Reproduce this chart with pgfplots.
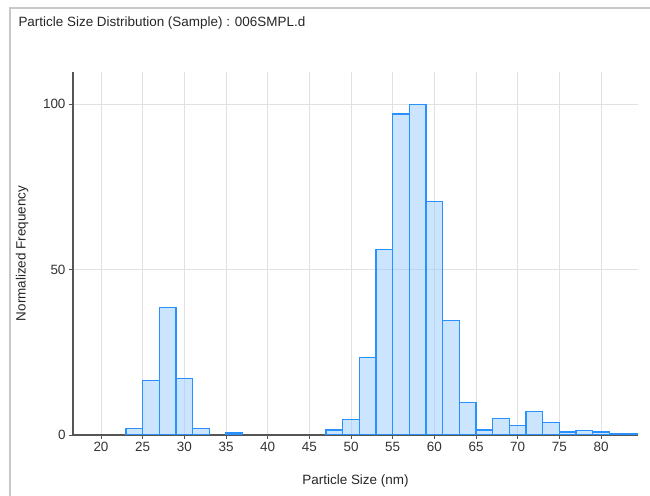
\documentclass[border=0pt]{standalone}
\usepackage{fontspec}
\setmainfont{Liberation Sans}
\usepackage{pgfplots}
\pgfplotsset{compat=1.18}

\definecolor{barfill}{RGB}{153,204,255}
\definecolor{baredge}{RGB}{40,145,255}
\definecolor{axgray}{RGB}{85,85,85}
\definecolor{gridgray}{RGB}{225,225,225}
\definecolor{framegray}{RGB}{200,200,200}

\begin{document}
\begin{tikzpicture}[x=1bp,y=1bp]
\useasboundingbox (0,0) rectangle (650,496);
% panel frame
\draw[framegray, line width=1.5bp] (10,0) -- (10,488) -- (650,488);
\node[anchor=west, font=\fontsize{13.5}{15}\selectfont, text=black!85] at (15,473) {Particle Size Distribution (Sample) : 006SMPL.d};

\begin{axis}[
    at={(73bp,61bp)}, anchor=origin,
    scale only axis,
    width=565bp, height=363bp,
    xmin=16.64, xmax=84.44,
    ymin=0, ymax=109.7,
    axis lines*=left,
    axis line style={axgray, line width=1.2bp},
    xtick={20,25,...,80},
    ytick={0,50,100},
    tick align=outside,
    major tick length=4bp,
    tick style={axgray, line width=0.8bp},
    grid=major,
    grid style={gridgray, line width=0.8bp},
    ticklabel style={font=\fontsize{13.5}{15}\selectfont, text=black!80},
    /pgf/number format/assume math mode=true,
    xlabel={Particle Size (nm)},
    ylabel={Normalized Frequency},
    label style={font=\fontsize{13.5}{15}\selectfont, text=black!85},
    xlabel style={at={(axis description cs:0.5,0)}, anchor=north, yshift=-36bp},
    ylabel style={at={(axis description cs:0,0.5)}, anchor=south, yshift=41bp},
    clip=true,
]
\addplot[ybar, bar width=2, bar shift=0, fill=barfill, fill opacity=0.5,
         draw=baredge, line width=1.1bp] coordinates {
    (24,2.0) (26,16.5) (28,38.5) (30,17.0) (32,2.0)
    (36,0.6)
    (48,1.5) (50,4.7) (52,23.3) (54,56.0) (56,97.0) (58,100.0)
    (60,70.6) (62,34.5) (64,9.7) (66,1.5) (68,5.0) (70,3.0)
    (72,7.0) (74,3.9) (76,0.9) (78,1.3) (80,0.9) (82,0.4) (84,0.4)
};
\end{axis}
\end{tikzpicture}
\end{document}
